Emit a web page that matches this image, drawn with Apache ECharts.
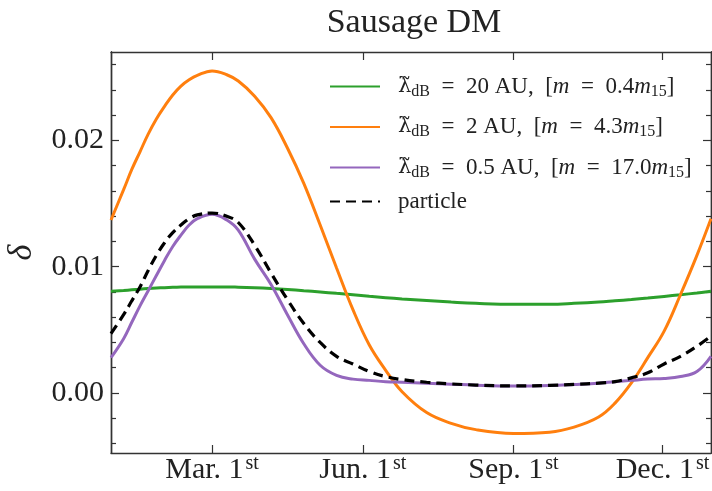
<!DOCTYPE html>
<html><head><meta charset="utf-8">
<script src="https://cdn.jsdelivr.net/npm/echarts@6/dist/echarts.min.js"></script>
<style>html,body{margin:0;padding:0;background:#fff}#c{width:712px;height:491px}</style>
</head><body><div id="c"></div>
<script>
// x in days since Jan 1 (0-based)
const days = [-2.7,5,10,15,20,25,30,35,40,45,50,59,68,75,85,95,105,115,125,135,145,155,165,175,190,205,220,243,265,280,295,305,315,325,335,345,355,363.6];
const green = [0.00805,0.00812,0.00817,0.00822,0.00827,0.00831,0.00834,0.00837,0.00839,0.0084,0.0084,0.0084,0.0084,0.00838,0.00834,0.00828,0.0082,0.0081,0.008,0.00789,0.00778,0.00766,0.00755,0.00745,0.00732,0.0072,0.0071,0.00702,0.00703,0.0071,0.0072,0.0073,0.0074,0.00752,0.00765,0.00778,0.00792,0.00805];
const orange = [0.0137,0.0161,0.0177,0.0191,0.0205,0.0217,0.0227,0.0236,0.0243,0.0248,0.02515,0.0255,0.0252,0.0247,0.0235,0.0218,0.0194,0.0166,0.0133,0.0099,0.0066,0.0038,0.0018,0.0001,-0.00155,-0.0024,-0.0029,-0.0032,-0.0031,-0.0027,-0.0019,-0.0008,0.0008,0.0028,0.0049,0.0078,0.0109,0.0138];
const purple = [0.0028,0.0043,0.0056,0.0069,0.0081,0.0093,0.0105,0.0116,0.0125,0.0133,0.0138,0.01415,0.0137,0.0129,0.0106,0.0086,0.0062,0.0039,0.0022,0.0014,0.0011,0.001,0.0009,0.00085,0.00077,0.0007,0.00062,0.00056,0.0006,0.00068,0.00078,0.0009,0.001,0.0011,0.00115,0.0013,0.0017,0.0029];
const particle = [0.0047,0.0062,0.0073,0.0084,0.0097,0.0109,0.0119,0.0127,0.0133,0.0138,0.0141,0.01425,0.014,0.0135,0.0117,0.0095,0.0074,0.0055,0.004,0.0029,0.0023,0.0017,0.0013,0.00106,0.00085,0.00072,0.00063,0.00056,0.0006,0.00068,0.00078,0.0009,0.0012,0.0016,0.0023,0.0029,0.0037,0.0045];

const seriesNames = ['lam20','lam2','lam05','particle'];
const legendTexts = [
  '{gap|}{lam|λ\u0303}{sub|dB}\u2002=\u200220 AU,\u2002[{it|m}\u2002=\u20020.4{it|m}{sub|15}]',
  '{gap|}{lam|λ\u0303}{sub|dB}\u2002=\u20022 AU,\u2002[{it|m}\u2002=\u20024.3{it|m}{sub|15}]',
  '{gap|}{lam|λ\u0303}{sub|dB}\u2002=\u20020.5 AU,\u2002[{it|m}\u2002=\u200217.0{it|m}{sub|15}]',
  '{gap|}particle'
];
const xTickDays = [59, 151, 243, 334];
const xTickLabels = ['Mar. 1', 'Jun. 1', 'Sep. 1', 'Dec. 1'];
const yMajorTicks = [0, 0.01, 0.02];
const yMinorTicks = [-0.004,-0.002,0.002,0.004,0.006,0.008,0.012,0.014,0.016,0.018,0.022,0.024,0.026];

const FONT = 'Liberation Serif';
const AX = '#333';
const TXT = '#222';
const xMin = -2.7, xMax = 363.6, yMin = -0.00475, yMax = 0.0270;

const chart = echarts.init(document.getElementById('c'), null, {renderer: 'canvas'});

function xAxisDef(pos, withLabels) {
  return {
    type: 'value', position: pos, min: xMin, max: xMax,
    axisLine: {show: true, onZero: false, lineStyle: {color: AX, width: 1.4}},
    axisTick: {show: true, inside: true, length: 8, customValues: xTickDays, lineStyle: {color: AX, width: 1.2}},
    axisLabel: withLabels ? {
      show: true, customValues: xTickDays, margin: 1,
      formatter: v => '{b|' + xTickLabels[xTickDays.indexOf(v)] + '}{sup|st}',
      rich: {
        b: {fontFamily: FONT, fontSize: 30, color: TXT},
        sup: {fontFamily: FONT, fontSize: 20, color: TXT, padding: [0, 0, 12, 2]}
      }
    } : {show: false},
    splitLine: {show: false}
  };
}
function yAxisDef(pos, ticks, len, withLabels) {
  const a = {
    type: 'value', position: pos, min: yMin, max: yMax,
    axisLine: {show: true, onZero: false, lineStyle: {color: AX, width: 1.4}},
    axisTick: {show: true, inside: true, length: len, customValues: ticks, lineStyle: {color: AX, width: 1.2}},
    axisLabel: withLabels ? {
      show: true, customValues: yMajorTicks, margin: 7,
      formatter: v => v.toFixed(2),
      fontFamily: FONT, fontSize: 30, color: TXT
    } : {show: false},
    splitLine: {show: false}
  };
  if (withLabels) {
    a.name = 'δ';
    a.nameLocation = 'middle';
    a.nameRotate = 90;
    a.nameGap = 72;
    a.nameTextStyle = {fontFamily: FONT, fontSize: 34, fontStyle: 'italic', color: TXT};
  }
  return a;
}

const colors = ['#2ca02c', '#ff7f0e', '#9467bd', '#000000'];
const values = [green, orange, purple, particle];

const legendTextStyle = {
  fontFamily: FONT, fontSize: 23, color: TXT,
  rich: {
    gap: {width: 13},
    lam: {fontFamily: 'DejaVu Serif', fontSize: 21, color: TXT},
    it: {fontFamily: FONT, fontSize: 23, fontStyle: 'italic', color: TXT},
    sub: {fontFamily: FONT, fontSize: 16, color: TXT, padding: [10, 0, 0, 0]}
  }
};
function legendDef(names, top, gap) {
  return {
    orient: 'vertical', left: 329, top: top, padding: 0,
    itemWidth: 50, itemHeight: 14, itemGap: gap,
    itemStyle: {opacity: 0},
    data: names,
    formatter: name => legendTexts[seriesNames.indexOf(name)],
    textStyle: legendTextStyle
  };
}

const option = {
  animation: false,
  backgroundColor: '#fff',
  title: {
    text: 'Sausage DM', left: 409, top: 1, textAlign: 'center',
    textStyle: {fontFamily: FONT, fontSize: 34, fontWeight: 'normal', color: TXT}
  },
  grid: {left: 111, right: 1, top: 52, bottom: 38, containLabel: false, outerBoundsMode: 'none'},
  xAxis: [xAxisDef('bottom', true), xAxisDef('top', false)],
  yAxis: [
    yAxisDef('left', yMajorTicks, 8, true),
    yAxisDef('left', yMinorTicks, 5, false),
    yAxisDef('right', yMajorTicks, 8, false),
    yAxisDef('right', yMinorTicks, 5, false)
  ],
  legend: [
    legendDef(seriesNames.slice(0, 3), 75, 16),
    legendDef(seriesNames.slice(3), 190, 10)
  ],
  series: seriesNames.map((n, i) => ({
    name: n, type: 'line', xAxisIndex: 0, yAxisIndex: 0,
    data: days.map((d, j) => [d, values[i][j]]),
    smooth: 0.4, symbol: 'none', showSymbol: false,
    lineStyle: i === 3 ? {color: colors[i], width: 3.2, type: [10, 6]} : {color: colors[i], width: 3},
    itemStyle: {color: colors[i]},
    z: 2 + i
  }))
};
chart.setOption(option);
</script>
</body></html>
